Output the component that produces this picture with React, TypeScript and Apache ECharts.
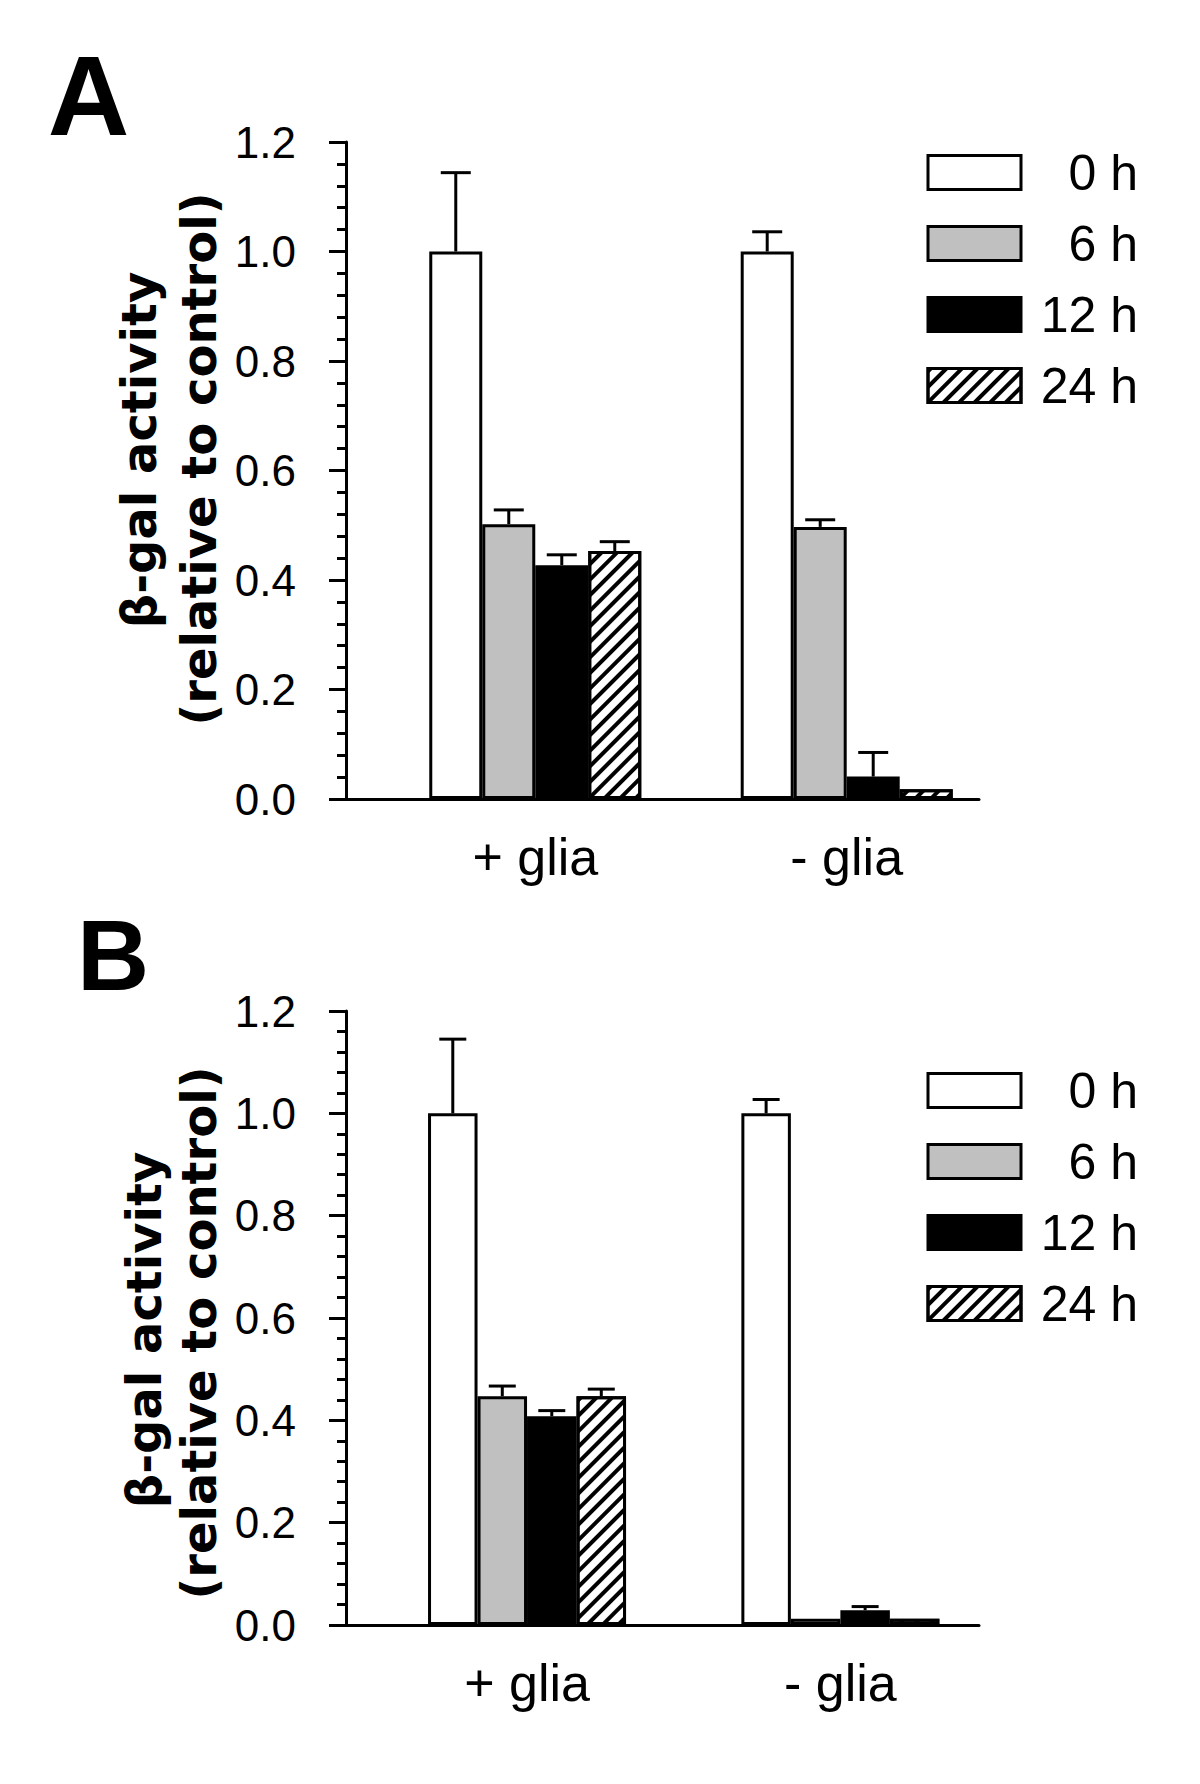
import React, { useEffect, useRef } from "react";
import * as echarts from "echarts";

// ---- data ----
const groupNames = ["+ glia", "- glia"];
const timeNames = ["0 h", "6 h", "12 h", "24 h"];

// Panel A means / upward SEM
const aMean0h = [1.0, 1.0];
const aMean6h = [0.502, 0.497];
const aMean12h = [0.427, 0.041];
const aMean24h = [0.453, 0.018];
const aErr0h = [0.144, 0.036];
const aErr6h = [0.026, 0.013];
const aErr12h = [0.019, 0.044];
const aErr24h = [0.017, 0];

// Panel B means / upward SEM
const bMean0h = [1.0, 1.0];
const bMean6h = [0.447, 0.012];
const bMean12h = [0.408, 0.029];
const bMean24h = [0.447, 0.012];
const bErr0h = [0.145, 0.027];
const bErr6h = [0.02, 0];
const bErr12h = [0.011, 0.007];
const bErr24h = [0.014, 0];

const yTickLabels = ["0.0", "0.2", "0.4", "0.6", "0.8", "1.0", "1.2"];

// ---- styling / layout ----
const FILLS = ["#ffffff", "#c0c0c0", "#000000", "#ffffff"];
const hatch = {
  symbol: "rect",
  symbolSize: 1,
  dashArrayX: [1, 0],
  dashArrayY: [4, 7],
  rotation: -Math.PI / 4,
  color: "#000",
};

const panels = [
  {
    grid: { left: 346, top: 142, width: 633, height: 657 },
    groupX: [2.99, 7.91],
    barW: 53,
    capW: 30,
    means: [aMean0h, aMean6h, aMean12h, aMean24h],
    errs: [aErr0h, aErr6h, aErr12h, aErr24h],
    legendTop: 147.5,
  },
  {
    grid: { left: 346, top: 1011, width: 633, height: 614 },
    groupX: [2.86, 7.81],
    barW: 49.5,
    capW: 27,
    means: [bMean0h, bMean6h, bMean12h, bMean24h],
    errs: [bErr0h, bErr6h, bErr12h, bErr24h],
    legendTop: 1065.5,
  },
];

function buildOption() {
  const grid: any[] = [];
  const xAxis: any[] = [];
  const yAxis: any[] = [];
  const series: any[] = [];
  const legend: any[] = [];

  panels.forEach((p, pi) => {
    grid.push({ ...p.grid, containLabel: false });
    xAxis.push({
      type: "value",
      gridIndex: pi,
      min: 0,
      max: 10,
      axisLine: { show: true, onZero: false, lineStyle: { color: "#000", width: 3 } },
      axisTick: { show: false },
      splitLine: { show: false },
      axisLabel: {
        show: true,
        customValues: p.groupX,
        margin: 32,
        fontSize: 52,
        fontFamily: "Liberation Sans",
        color: "#000",
        formatter: (v: number) => {
          let best = 0;
          p.groupX.forEach((g, i) => {
            if (Math.abs(g - v) < Math.abs(p.groupX[best] - v)) best = i;
          });
          return groupNames[best];
        },
      },
    });
    yAxis.push({
      type: "value",
      gridIndex: pi,
      min: 0,
      max: 1.2,
      interval: 0.2,
      axisLine: { show: true, lineStyle: { color: "#000", width: 3 } },
      axisTick: { show: true, length: 17, lineStyle: { color: "#000", width: 3 } },
      minorTick: { show: true, splitNumber: 5, length: 9, lineStyle: { color: "#000", width: 3 } },
      splitLine: { show: false },
      minorSplitLine: { show: false },
      axisLabel: {
        margin: 50,
        fontSize: 44,
        fontFamily: "Liberation Sans",
        color: "#000",
        formatter: (v: number) => yTickLabels[Math.round(v / 0.2)] ?? v.toFixed(1),
      },
    });

    timeNames.forEach((t, ti) => {
      series.push({
        type: "bar",
        name: t,
        xAxisIndex: pi,
        yAxisIndex: pi,
        barWidth: p.barW,
        barGap: "0%",
        data: p.groupX.map((gx, gi) => [gx, p.means[ti][gi]]),
        itemStyle: {
          color: FILLS[ti],
          borderColor: "#000",
          borderWidth: 3,
          decal: ti === 3 ? hatch : undefined,
        },
        emphasis: { disabled: true },
      });
    });

    timeNames.forEach((t, ti) => {
      series.push({
        type: "custom",
        xAxisIndex: pi,
        yAxisIndex: pi,
        z: 5,
        data: p.groupX.map((gx, gi) => [gx, p.means[ti][gi], p.errs[ti][gi]]),
        encode: { x: 0, y: 1 },
        renderItem: (params: any, api: any) => {
          const gx = api.value(0);
          const m = api.value(1);
          const e = api.value(2);
          if (!(e > 0)) return null;
          const p0 = api.coord([gx, m]);
          const p1 = api.coord([gx, m + e]);
          const cx = p0[0] + (ti - 1.5) * p.barW;
          const half = p.capW / 2;
          return {
            type: "group",
            children: [
              {
                type: "line",
                shape: { x1: cx, y1: p0[1], x2: cx, y2: p1[1] },
                style: { stroke: "#000", lineWidth: 3 },
              },
              {
                type: "line",
                shape: { x1: cx - half, y1: p1[1], x2: cx + half, y2: p1[1] },
                style: { stroke: "#000", lineWidth: 3 },
              },
            ],
          };
        },
      });
    });

    legend.push({
      data: timeNames,
      orient: "vertical",
      left: 926.5,
      top: p.legendTop,
      padding: 0,
      itemWidth: 93,
      itemHeight: 34,
      itemGap: 21,
      icon: "rect",
      selectedMode: false,
      itemStyle: { borderColor: "#000", borderWidth: 3 },
      formatter: (n: string) => `{a|${n}}`,
      textStyle: {
        rich: {
          a: {
            width: 112,
            align: "right",
            fontSize: 50,
            lineHeight: 34,
            fontFamily: "Liberation Sans",
            color: "#000",
          },
        },
      },
    });
  });

  const titleFont = 'bold 48px "DejaVu Sans"';
  const graphic = [
    { type: "text", x: 88.5, y: 95.5, style: { text: "A", font: 'bold 113px "Liberation Sans"', fill: "#000", align: "center", verticalAlign: "middle" } },
    { type: "text", x: 113, y: 955, style: { text: "B", font: 'bold 100px "Liberation Sans"', fill: "#000", align: "center", verticalAlign: "middle" } },
    { type: "text", x: 139, y: 450, rotation: Math.PI / 2, style: { text: "β-gal activity", font: titleFont, fill: "#000", align: "center", verticalAlign: "middle" } },
    { type: "text", x: 199, y: 459, rotation: Math.PI / 2, style: { text: "(relative to control)", font: titleFont, fill: "#000", align: "center", verticalAlign: "middle" } },
    { type: "text", x: 144, y: 1330, rotation: Math.PI / 2, style: { text: "β-gal activity", font: titleFont, fill: "#000", align: "center", verticalAlign: "middle" } },
    { type: "text", x: 199, y: 1333, rotation: Math.PI / 2, style: { text: "(relative to control)", font: titleFont, fill: "#000", align: "center", verticalAlign: "middle" } },
  ];

  return {
    animation: false,
    backgroundColor: "#ffffff",
    grid,
    xAxis,
    yAxis,
    legend,
    series,
    graphic,
  };
}

export default function App() {
  const ref = useRef<HTMLDivElement>(null);
  useEffect(() => {
    if (!ref.current) return;
    const chart = echarts.init(ref.current, null, { renderer: "svg" });
    chart.setOption(buildOption() as any);
    return () => chart.dispose();
  }, []);
  return (
    <div
      ref={ref}
      style={{ position: "absolute", left: 0, top: 0, width: 1200, height: 1784, background: "#fff" }}
    />
  );
}
